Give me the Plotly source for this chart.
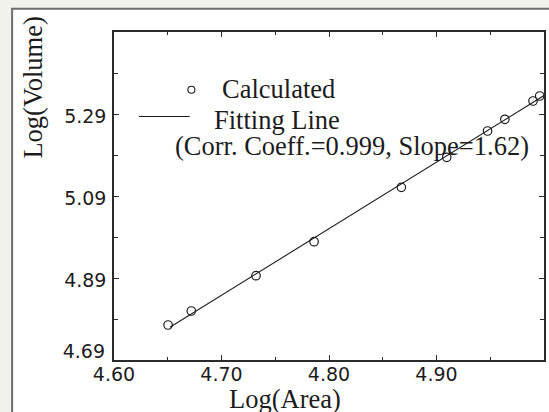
import plotly.graph_objects as go

# ---- data ----
log_area = [4.6503, 4.6719, 4.7321, 4.7861, 4.8673, 4.9095, 4.9475, 4.9636, 4.9898, 4.9960]
log_volume = [4.7754, 4.8095, 4.8956, 4.9785, 5.1112, 5.1844, 5.2485, 5.2771, 5.3217, 5.3339]
fit_x = [4.652, 5.000]
fit_y = [4.770, 5.335]
x_ticks = [4.60, 4.70, 4.80, 4.90]
y_ticks = [4.69, 4.89, 5.09, 5.29]
legend_labels = ["Calculated", "Fitting Line", "(Corr. Coeff.=0.999, Slope=1.62)"]

W, H = 549, 412
L, R, T, B = 114, 545.7, 32.3, 360.0
PW, PH = R - L, B - T
Y_RANGE = [4.69, 5.49]


def px(xp):
    return (xp - L) / PW


def py(yp):
    return (B - yp) / PH


INK = "#1c1c1c"
BG = "#f2f2ec"
SERIF = "Liberation Serif, Times New Roman, serif"
SANS = "DejaVu Sans, Arial, sans-serif"
TICKFONT = dict(family=SANS, size=19, color=INK)

fig = go.Figure()
fig.add_trace(go.Scatter(x=fit_x, y=fit_y, mode="lines",
                         line=dict(color=INK, width=1.1), showlegend=False,
                         hoverinfo="skip"))
fig.add_trace(go.Scatter(x=log_area, y=log_volume, mode="markers",
                         marker=dict(symbol="circle-open", size=8.5,
                                     color=INK, line=dict(width=1.2, color=INK)),
                         showlegend=False))

axis_common = dict(showgrid=False, zeroline=False, showline=True, linecolor="#2a2a2a",
                   linewidth=1.5, mirror="ticks", ticks="inside", ticklen=5,
                   tickwidth=1.2, tickcolor="#2a2a2a", tickfont=TICKFONT)

fig.update_xaxes(range=[4.60, 5.00], tickvals=x_ticks,
                 ticktext=[f"{v:.2f}" for v in x_ticks],
                 ticklabelstandoff=-4,
                 minor=dict(dtick=0.05, tick0=4.60, ticks="inside", ticklen=3,
                            tickcolor="#2a2a2a", tickwidth=1),
                 **axis_common)
# main y axis: labels for all but the bottom tick (which sits above the axis line)
fig.update_yaxes(range=Y_RANGE, tickvals=y_ticks,
                 ticktext=[""] + [f"{v:.2f}" for v in y_ticks[1:]],
                 ticklabelstandoff=2, ticklabelshift=2,
                 minor=dict(dtick=0.1, tick0=4.69, ticks="inside", ticklen=4,
                            tickcolor="#2a2a2a", tickwidth=1),
                 **axis_common)
# overlay axis carrying only the bottom label, lifted above the x axis line
fig.update_layout(yaxis2=dict(overlaying="y", side="left", range=Y_RANGE,
                              tickvals=y_ticks[:1],
                              ticktext=[f"{y_ticks[0]:.2f}"],
                              showline=False, showgrid=False, zeroline=False,
                              ticks="", ticklabelstandoff=8, ticklabelshift=-9,
                              tickfont=TICKFONT, fixedrange=True))
fig.add_trace(go.Scatter(x=[None], y=[None], yaxis="y2", showlegend=False,
                         hoverinfo="skip"))

shapes = [
    # white panel with grey frame
    dict(type="rect", xref="paper", yref="paper", layer="below",
         x0=px(11.7), x1=px(W + 10), y0=py(H + 10), y1=py(9.0),
         line=dict(color="#6e6e6e", width=2), fillcolor="white"),
    # legend: line sample
    dict(type="line", xref="paper", yref="paper",
         x0=px(139), x1=px(190), y0=py(116.7), y1=py(116.7),
         line=dict(color=INK, width=1.1)),
    # legend: circle sample
    dict(type="circle", xref="paper", yref="paper",
         xsizemode="pixel", ysizemode="pixel",
         xanchor=px(191.7), yanchor=py(90),
         x0=-3.5, x1=3.5, y0=-3.5, y1=3.5,
         line=dict(color=INK, width=1.1)),
]

annotations = [
    dict(text=legend_labels[0], x=px(220), y=py(89.5), xanchor="left", yanchor="middle"),
    dict(text=legend_labels[1], x=px(212), y=py(120.5), xanchor="left", yanchor="middle"),
    dict(text=legend_labels[2], x=px(173.5), y=py(146), xanchor="left", yanchor="middle"),
    dict(text="Log(Area)", x=px(286), y=py(398.5), xanchor="center", yanchor="middle"),
    dict(text="Log(Volume)", x=px(32.5), y=py(88), xanchor="center", yanchor="middle",
         textangle=-90),
]
for a in annotations:
    a.update(xref="paper", yref="paper", showarrow=False,
             font=dict(family=SERIF, size=26.5, color=INK))

fig.update_layout(width=W, height=H, margin=dict(l=L, r=W - R, t=T, b=H - B, pad=0),
                  paper_bgcolor=BG, plot_bgcolor="white",
                  shapes=shapes, annotations=annotations, showlegend=False)

fig.write_html("out.html",
               config={"displayModeBar": False},
               post_script=("document.body.style.margin='0';"
                            "document.body.style.padding='0';"
                            "document.body.style.background='" + BG + "';"
                            "document.documentElement.style.overflow='hidden';"))
